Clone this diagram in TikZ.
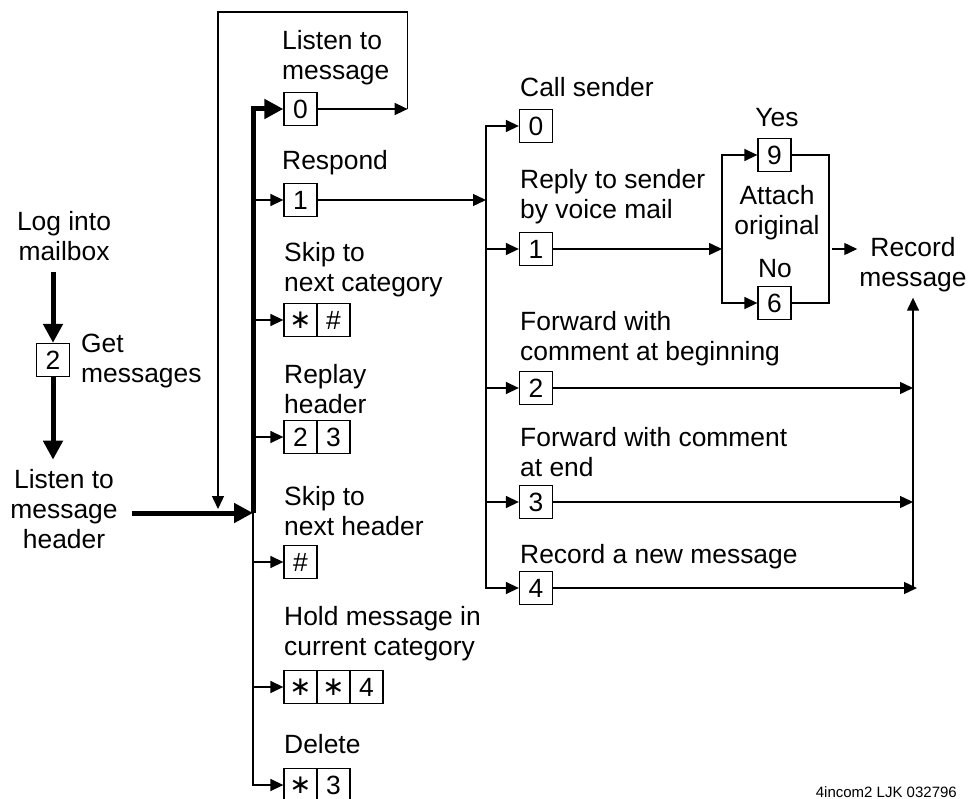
\documentclass[tikz,border=0pt]{standalone}
\usepackage{fontspec}
\setmainfont{Liberation Sans}
\newfontfamily\symfont{DejaVu Sans}
\usetikzlibrary{arrows.meta}

\tikzset{
  key/.style={draw, line width=1.3pt, minimum width=33pt, minimum height=33pt, inner sep=0pt},
  lbl/.style={anchor=base west, align=left, inner sep=0pt},
  clbl/.style={anchor=base, align=center, inner sep=0pt},
  wire/.style={line width=1.4pt},
  arr/.style={wire, ->},
  bigarr/.style={line width=5pt, -{Triangle[length=19pt,width=19pt]}},
}
\newcommand{\starkey}{{\symfont ∗}}

\begin{document}
\begin{tikzpicture}[x=1pt, y=-1pt, >={Triangle[length=13pt,width=12pt]},
  font=\fontsize{26.4}{30}\selectfont]

\useasboundingbox (0,0) rectangle (971,799);

% left column (base = last line)
\node[clbl] (login) at (64,261) {Log into\\mailbox};
\node[key] (k2) at (53,360) {2};
\node[lbl] (lGet) at (81,382) {Get\\messages};
\node[clbl] (hdr) at (64,548) {Listen to\\message\\header};

\draw[bigarr] ([yshift=-11pt]k2.north |- login.south) -- (k2.north);
\draw[bigarr] (k2.south) -- ([yshift=9pt]k2.south |- hdr.north);

% main bus
\coordinate (jn) at (253,513);
\coordinate (bustop) at (253,109);
\coordinate (looptop) at (218,12);

\node[key] (k0) at (300.5,109) {0};
\node[key] (k1) at (300.5,200) {1};
\node[key] (kc1) at (300.5,320) {\starkey};
\node[key] (kc2) at (333.5,320) {\#};
\node[key] (kr1) at (300.5,437) {2};
\node[key] (kr2) at (333.5,437) {3};
\node[key] (kh) at (300.5,562) {\#};
\node[key] (kq1) at (300.5,687) {\starkey};
\node[key] (kq2) at (333.5,687) {\starkey};
\node[key] (kq3) at (366.5,687) {4};
\node[key] (kd1) at (300.5,785) {\starkey};
\node[key] (kd2) at (333.5,785) {3};

\node[lbl] (lListen) at (282,80) {Listen to\\message};
\node[lbl] (lResp) at (282,170) {Respond};
\node[lbl] (lSkipC) at (284,292) {Skip to\\next category};
\node[lbl] (lReplay) at (284,413) {Replay\\header};
\node[lbl] (lSkipH) at (284,535) {Skip to\\next header};
\node[lbl] (lHold) at (284,655) {Hold message in\\current category};
\node[lbl] (lDel) at (284,753) {Delete};

\draw[bigarr] ([xshift=14pt]hdr.east |- jn) -- (jn);
\draw[bigarr] (jn) -- (bustop) -- (k0.west);

\draw[arr] (k0.east) -- ++(90,0) coordinate (loopc);
\draw[arr, shorten >=4pt] (loopc) |- (looptop) -- (looptop |- jn);

\draw[arr] (k1.west -| jn) -- (k1.west);
\draw[arr] (kc1.west -| jn) -- (kc1.west);
\draw[arr] (kr1.west -| jn) -- (kr1.west);
\draw[arr] (kh.west -| jn) -- (kh.west);
\draw[arr] (kq1.west -| jn) -- (kq1.west);
\draw[arr] (jn) |- (kd1.west);

% respond branch
\coordinate (rbus) at (486,200);

\node[key] (r0) at (536,126) {0};
\node[key] (r1) at (536,249) {1};
\node[key] (r2) at (536,388) {2};
\node[key] (r3) at (536,502) {3};
\node[key] (r4) at (536,588) {4};

\node[lbl] (lCall) at (520,97) {Call sender};
\node[lbl] (lReply) at (520,219) {Reply to sender\\by voice mail};
\node[lbl] (lFwdB) at (520,360) {Forward with\\comment at beginning};
\node[lbl] (lFwdE) at (520,476) {Forward with comment\\at end};
\node[lbl] (lNew) at (520,563) {Record a new message};

\draw[arr] (k1.east) -- (rbus);
\draw[arr] (rbus) |- (r0.west);
\draw[arr] (rbus) |- (r4.west);
\draw[arr] (r1.west -| rbus) -- (r1.west);
\draw[arr] (r2.west -| rbus) -- (r2.west);
\draw[arr] (r3.west -| rbus) -- (r3.west);

% attach original
\coordinate (att) at (722,249);
\coordinate (attr) at (829,249);
\node[key] (y9) at (774.5,155) {9};
\node[key] (n6) at (774.5,303) {6};
\node[clbl] (lYes) at (777,127) {Yes};
\node[clbl] (lAtt) at (777,235) {Attach\\original};
\node[clbl] (lNo) at (775,278) {No};
\node[clbl] (rec) at (913,287) {Record\\message};

\draw[arr] (r1.east) -- (att);
\draw[arr] (att) |- (y9.west);
\draw[arr] (att) |- (n6.west);
\draw[wire] (y9.east) -| (attr) |- (n6.east);
\draw[arr, shorten >=2pt] ([xshift=3pt]attr) -- (attr -| rec.west);

% collector
\coordinate (rcol) at (913,588);
\draw[arr] (r2.east) -- (r2.east -| rcol);
\draw[arr] (r3.east) -- (r3.east -| rcol);
\draw[arr] (r4.east) -- ([xshift=4pt]r4.east -| rcol);
\draw[arr] (rcol) -- ([yshift=-5pt]rec.south);

\node[anchor=base east, inner sep=0pt, font=\fontsize{15}{17}\selectfont] (tag) at (957,797) {4incom2 LJK 032796};

\end{tikzpicture}
\end{document}
